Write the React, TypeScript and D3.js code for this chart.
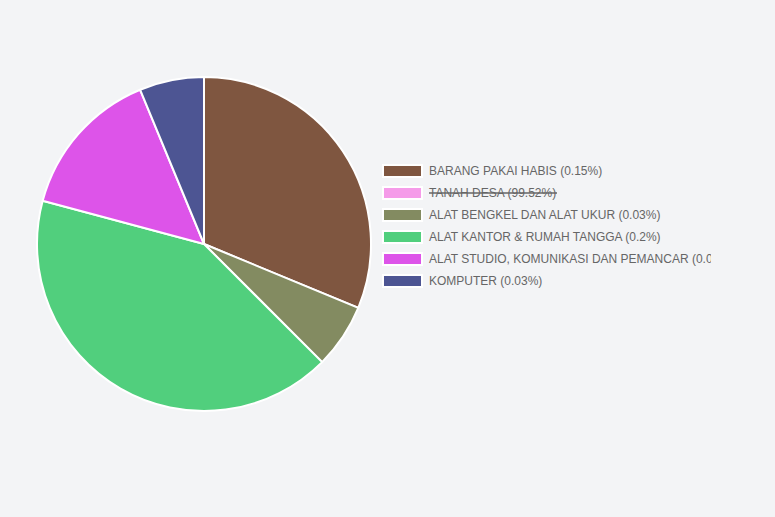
import React, { useMemo } from 'react';
import * as d3 from 'd3';

const labels = [
  'BARANG PAKAI HABIS',
  'TANAH DESA',
  'ALAT BENGKEL DAN ALAT UKUR',
  'ALAT KANTOR & RUMAH TANGGA',
  'ALAT STUDIO, KOMUNIKASI DAN PEMANCAR',
  'KOMPUTER',
];
const percents = [0.15, 99.52, 0.03, 0.2, 0.07, 0.03];
const colors = ['#7f5640', '#f59be9', '#838b61', '#51cf7d', '#dd54e9', '#4d5593'];
const hidden = [false, true, false, false, false, false];

const W = 775;
const H = 517;
const cx = 204;
const cy = 244;
const radius = 167;

const App: React.FC = () => {
  const arcs = useMemo(() => {
    const items = labels
      .map((label, i) => ({ label, value: percents[i], color: colors[i], hidden: hidden[i] }))
      .filter((d) => !d.hidden);
    const pie = d3.pie<typeof items[number]>().sort(null).value((d) => d.value);
    const arc = d3.arc<d3.PieArcDatum<typeof items[number]>>().innerRadius(0).outerRadius(radius);
    return pie(items).map((a) => ({ d: arc(a) || '', color: a.data.color, key: a.data.label }));
  }, []);

  const legendX = 383;
  const legendY = 171;
  const rowH = 22;

  return (
    <div style={{ position: 'fixed', left: 0, top: 0, width: W, height: H, background: '#f3f4f6' }}>
      <svg width={W} height={H} style={{ display: 'block' }}>
        <defs>
          <clipPath id="legclip">
            <rect x={0} y={0} width={711} height={H} />
          </clipPath>
        </defs>
        <g transform={`translate(${cx},${cy})`}>
          {arcs.map((a) => (
            <path key={a.key} d={a.d} fill={a.color} stroke="#ffffff" strokeWidth={2} />
          ))}
        </g>
        <g clipPath="url(#legclip)" fontFamily="'Liberation Sans', Arial, Helvetica, sans-serif" fontSize={12} fill="#666666">
          {labels.map((label, i) => {
            const y = legendY + i * rowH;
            const text = `${label} (${percents[i]}%)`;
            const textW = text.length * 6.6;
            return (
              <g key={label}>
                <rect x={legendX} y={y - 6} width={39} height={12} fill={colors[i]} stroke="#ffffff" strokeWidth={2} />
                <text x={legendX + 46} y={y} dominantBaseline="central">
                  {text}
                </text>
                {hidden[i] && (
                  <line x1={legendX + 46} x2={legendX + 46 + 128} y1={y} y2={y} stroke="#666666" strokeWidth={1.5} />
                )}
              </g>
            );
          })}
        </g>
      </svg>
    </div>
  );
};

export default App;
